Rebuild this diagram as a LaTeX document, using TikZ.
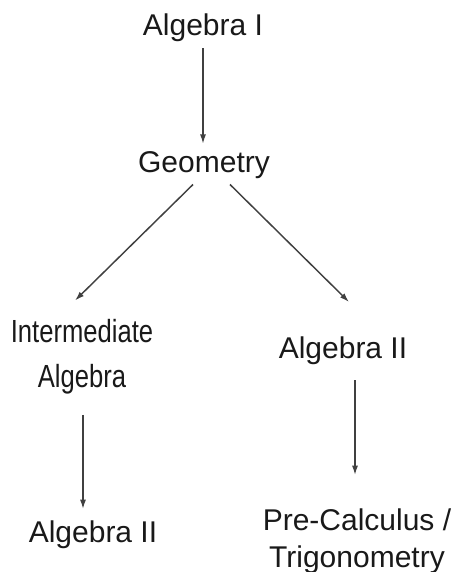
\documentclass[tikz,border=0pt]{standalone}
\usepackage{fontspec}
\setmainfont{Liberation Sans}
\newfontfamily\narrowfont[FakeStretch=0.8]{Liberation Sans}
\usetikzlibrary{arrows.meta,calc}
\begin{document}
\begin{tikzpicture}[x=0.75pt,y=-0.75pt,
  lbl/.style={inner sep=0pt, anchor=base, text=black!90, font=\fontsize{22.5}{27.75}\selectfont, align=center},
  arr/.style={draw=black!75, line width=1.1pt, -{Latex[length=7pt,width=4.5pt]}}]
\useasboundingbox (0,0) rectangle (453,572);
\node[lbl] (alg1) at (203,35) {Algebra I};
\node[lbl] (geo) at (204,172) {Geometry};
\node[lbl, font=\narrowfont\fontsize{24}{33.75}\selectfont] (inter) at (82,387) {Intermediate\\Algebra};
\node[lbl] (alg2r) at (343,358) {Algebra II};
\node[lbl] (alg2l) at (93,542) {Algebra II};
\node[lbl] (pre) at (357,567) {Pre-Calculus /\\Trigonometry};
\draw[arr] ($(alg1.south)+(0,7)$) -- ($(geo.north)+(-1,-7)$);
\draw[arr] ($(geo.south)+(-11,6)$) -- ($(inter.north)+(-7,-18)$);
\draw[arr] ($(geo.south)+(26,6)$) -- ($(alg2r.north)+(6,-34)$);
\draw[arr] ($(inter.south)+(1,21)$) -- ($(alg2l.north)+(-10,-11)$);
\draw[arr] ($(alg2r.south)+(12,16)$) -- ($(pre.north)+(-2,-33)$);
\end{tikzpicture}
\end{document}
